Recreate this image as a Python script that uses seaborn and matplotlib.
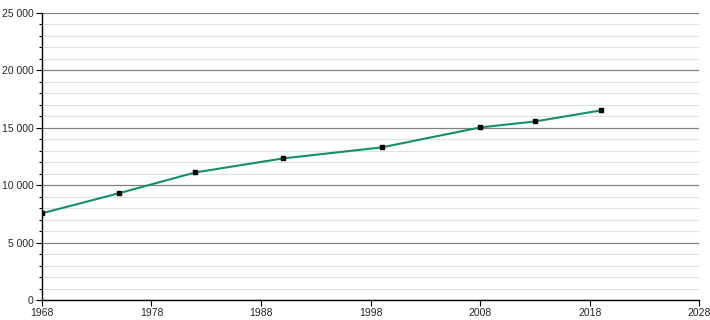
import matplotlib
matplotlib.use("Agg")
import matplotlib.pyplot as plt
import seaborn as sns
import pandas as pd
from matplotlib.ticker import MultipleLocator, FuncFormatter

years = [1968, 1975, 1982, 1990, 1999, 2008, 2013, 2019]
population = [7550, 9290, 11110, 12330, 13290, 15030, 15550, 16510]
x_ticks = [1968, 1978, 1988, 1998, 2008, 2018, 2028]

df = pd.DataFrame({"year": years, "population": population})

sns.set_style("white")
plt.rcParams['font.family'] = ['Liberation Sans', 'DejaVu Sans']

fig = plt.figure(figsize=(7.1, 3.2), dpi=100)
ax = fig.add_axes([0.059, 0.0625, 0.926, 0.897])

ax.yaxis.set_major_locator(MultipleLocator(5000))
ax.yaxis.set_minor_locator(MultipleLocator(1000))
ax.grid(which='minor', axis='y', color='#e0e0e0', linewidth=0.8, zorder=0)
ax.grid(which='major', axis='y', color='#808080', linewidth=0.9, zorder=0)
ax.set_axisbelow(True)

sns.lineplot(data=df, x="year", y="population", ax=ax, color='#12906c',
             linewidth=1.5, zorder=3)
ax.scatter(df["year"], df["population"], marker='s', s=10, color='black', zorder=4)

ax.set_xlim(1968, 2028)
ax.set_ylim(0, 25000)
ax.set_xticks(x_ticks)
ax.set_xticklabels([str(t) for t in x_ticks])
ax.yaxis.set_major_formatter(FuncFormatter(lambda v, p: f"{int(v):,}".replace(",", " ")))
ax.set_xlabel("")
ax.set_ylabel("")

for s in ['top', 'right']:
    ax.spines[s].set_visible(False)
for s in ['left', 'bottom']:
    ax.spines[s].set_color('black')
    ax.spines[s].set_linewidth(1.0)

ax.tick_params(axis='both', which='major', direction='out', length=4, width=0.8,
               color='black', labelsize=7.5, pad=2, left=True, bottom=True)
ax.tick_params(axis='y', which='minor', direction='out', length=2.5, width=0.8,
               color='black', left=True)

fig.savefig("out.png", dpi=100)
